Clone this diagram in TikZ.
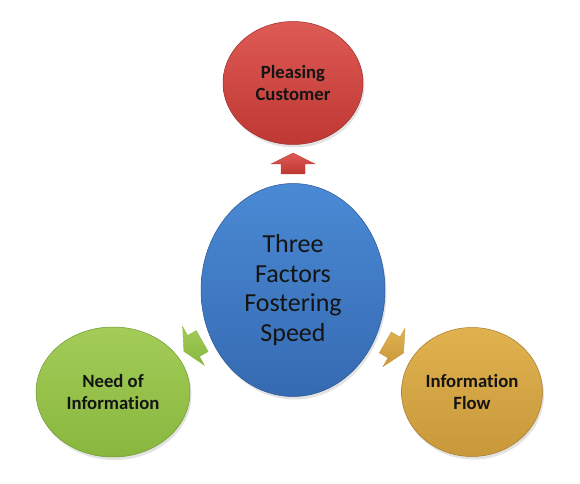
\documentclass[tikz,border=0pt]{standalone}
\usepackage{fontspec}
\setmainfont[RawFeature={-liga,-clig,-calt,-dlig}]{Carlito}
\usetikzlibrary{shapes.geometric,shadows}
\definecolor{redT}{HTML}{DE5A55}
\definecolor{redB}{HTML}{BF3833}
\definecolor{redE}{HTML}{9E2B27}
\definecolor{bluT}{HTML}{4A8AD4}
\definecolor{bluB}{HTML}{356AB2}
\definecolor{bluE}{HTML}{2A5592}
\definecolor{grnT}{HTML}{A3CC58}
\definecolor{grnB}{HTML}{88B73E}
\definecolor{grnE}{HTML}{6E9830}
\definecolor{orgT}{HTML}{E0B24F}
\definecolor{orgB}{HTML}{C8983A}
\definecolor{orgE}{HTML}{A57B2C}
\definecolor{txt}{HTML}{141414}
\tikzset{
  ball/.style={ellipse, inner sep=0pt, align=center, text=txt,
    drop shadow={opacity=0.22, shadow xshift=1.5bp, shadow yshift=-3bp}},
  small/.style={ball, font=\fontsize{18.7bp}{22.5bp}\selectfont\bfseries},
  big/.style={ball, font=\fontsize{26bp}{29.5bp}\selectfont},
  redball/.style={top color=redT, bottom color=redB, draw=redE, line width=0.5bp},
  bluball/.style={top color=bluT, bottom color=bluB, draw=bluE, line width=0.5bp},
  grnball/.style={top color=grnT, bottom color=grnB, draw=grnE, line width=0.5bp},
  orgball/.style={top color=orgT, bottom color=orgB, draw=orgE, line width=0.5bp},
  blockarrow/.style={line width=0.4bp}
}
\newcommand\blockarr[4]{%
  \begin{scope}[shift={(#1)}, rotate=#2]
    \path[blockarrow, top color=#3, bottom color=#4, draw=#4]
      (11,0) -- (0,22) -- (0,12) -- (-10,12) -- (-10,-12) -- (0,-12) -- (0,-22) -- cycle;
  \end{scope}}
\begin{document}
\begin{tikzpicture}[x=1bp,y=-1bp]
\useasboundingbox (0,0) rectangle (580,484);
\fill[white] (0,0) rectangle (580,484);
\node[small, redball, minimum width=140bp, minimum height=123bp] (red) at (293,83) {Pleasing\\Customer};
\node[big, bluball, minimum width=184bp, minimum height=213bp] (blue) at (293,290) {Three\\Factors\\Fostering\\Speed};
\node[small, grnball, minimum width=154bp, minimum height=130bp] (green) at (113,392) {Need of\\Information};
\node[small, orgball, minimum width=141bp, minimum height=129bp] (orange) at (472,392) {Information\\Flow};
\coordinate (ar) at (293,164);
\coordinate (ag) at (193.5,346);
\coordinate (ao) at (394,347.5);
\blockarr{ar}{90}{redT}{redB}
\blockarr{ag}{209.5}{grnT}{grnB}
\blockarr{ao}{-30}{orgT}{orgB}
\end{tikzpicture}
\end{document}
